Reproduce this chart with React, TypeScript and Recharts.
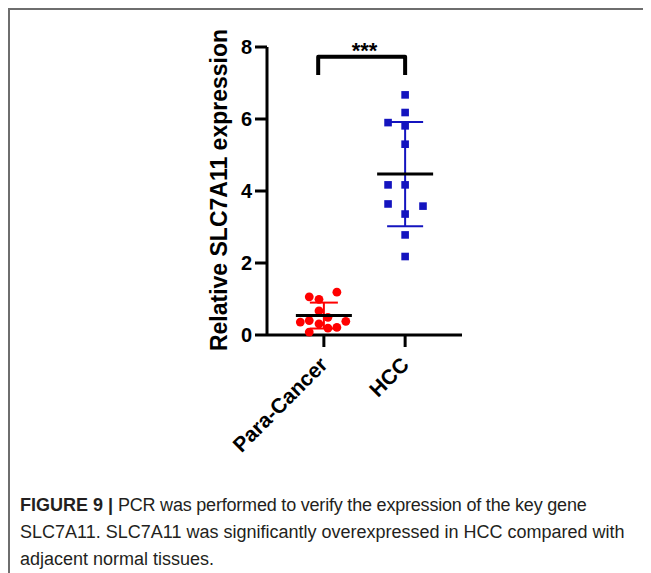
import React from "react";
import { ScatterChart, Scatter, XAxis, YAxis, ErrorBar } from "recharts";

// Categories and tick labels
const categories = ["Para-Cancer", "HCC"];
const categoryPositions = [1, 2];
const yTicks = [0, 2, 4, 6, 8];

// Individual measurements (x = category position with jitter, y = relative expression)
const paraCancerPoints = [
  { x: 0.82, y: 1.06 },
  { x: 0.94, y: 0.99 },
  { x: 1.16, y: 1.19 },
  { x: 0.94, y: 0.67 },
  { x: 1.05, y: 0.49 },
  { x: 0.71, y: 0.36 },
  { x: 0.82, y: 0.4 },
  { x: 0.94, y: 0.31 },
  { x: 1.27, y: 0.38 },
  { x: 0.82, y: 0.08 },
  { x: 1.05, y: 0.19 },
  { x: 1.16, y: 0.21 },
];

const hccPoints = [
  { x: 2.0, y: 6.67 },
  { x: 2.0, y: 6.18 },
  { x: 1.79, y: 5.9 },
  { x: 2.0, y: 5.81 },
  { x: 2.0, y: 5.3 },
  { x: 1.79, y: 4.17 },
  { x: 2.0, y: 4.17 },
  { x: 1.79, y: 3.64 },
  { x: 2.0, y: 3.36 },
  { x: 2.22, y: 3.58 },
  { x: 2.0, y: 2.78 },
  { x: 2.0, y: 2.18 },
];

// Mean +/- SD
const paraCancerSummary = [{ x: 1, y: 0.54, sd: 0.36 }];
const hccSummary = [{ x: 2, y: 4.47, sd: 1.45 }];

// Significance bracket
const bracketPoints = [
  { x: 0.93, y: 7.22 },
  { x: 0.93, y: 7.73 },
  { x: 2.0, y: 7.73 },
  { x: 2.0, y: 7.22 },
];
const significance = [{ x: 1.5, y: 7.73, label: "***" }];

const RED = "#ff0000";
const BLUE = "#1414bf";
const FONT = "'Liberation Sans', Arial, Helvetica, sans-serif";

const Circle = (props: any) => (
  <circle cx={props.cx} cy={props.cy} r={4.4} fill={RED} />
);
const Square = (props: any) => (
  <rect x={props.cx - 3.8} y={props.cy - 3.8} width={7.6} height={7.6} fill={BLUE} />
);
const MeanLine = (props: any) => (
  <line
    x1={props.cx - 28}
    x2={props.cx + 28}
    y1={props.cy}
    y2={props.cy}
    stroke="#000"
    strokeWidth={3}
  />
);
const Empty = () => <g />;
const Stars = (props: any) => (
  <text
    x={props.cx}
    y={props.cy + 1}
    textAnchor="middle"
    fontFamily={FONT}
    fontWeight="bold"
    fontSize={22}
    fill="#000"
  >
    {props.payload.label}
  </text>
);

const XTick = (props: any) => {
  const { x, y, payload } = props;
  const idx = categoryPositions.indexOf(payload.value);
  const label = idx >= 0 ? categories[idx] : "";
  return (
    <g transform={`translate(${x + 5},${y + 17})`}>
      <text
        x={0}
        y={0}
        textAnchor="end"
        transform="rotate(-45)"
        fontFamily={FONT}
        fontWeight="bold"
        fontSize={21}
        fill="#000"
      >
        {label}
      </text>
    </g>
  );
};

const YLabel = (props: any) => {
  const vb = props.viewBox || { x: 0, y: 0, width: 0, height: 0 };
  const cx = vb.x + 12;
  const cy = vb.y + vb.height / 2 - 1;
  return (
    <text
      x={cx}
      y={cy}
      transform={`rotate(-90, ${cx}, ${cy})`}
      textAnchor="middle"
      dominantBaseline="central"
      fontFamily={FONT}
      fontWeight="bold"
      fontSize={23}
      fill="#000"
    >
      Relative SLC7A11 expression
    </text>
  );
};

export default function App() {
  return (
    <div
      style={{
        position: "relative",
        width: 643,
        height: 565,
        background: "#fff",
        fontFamily: FONT,
      }}
    >
      <div
        style={{
          position: "absolute",
          left: 0,
          top: 0,
          right: 0,
          bottom: 0,
          borderTop: "2px solid #6e6e6e",
          borderLeft: "2px solid #6e6e6e",
        }}
      />
      <div style={{ position: "absolute", left: 0, top: 0 }}>
        <ScatterChart
          width={643}
          height={460}
          margin={{ top: 39, right: 189, left: 199, bottom: 33 }}
        >
          <XAxis
            type="number"
            dataKey="x"
            domain={[0.3, 2.7]}
            ticks={categoryPositions}
            allowDataOverflow
            height={100}
            tickSize={12}
            stroke="#000"
            axisLine={{ stroke: "#000", strokeWidth: 3 }}
            tickLine={{ stroke: "#000", strokeWidth: 3 }}
            tick={<XTick />}
            interval={0}
          />
          <YAxis
            type="number"
            dataKey="y"
            domain={[0, 8]}
            ticks={yTicks}
            width={60}
            tickSize={12}
            tickMargin={3}
            stroke="#000"
            axisLine={{ stroke: "#000", strokeWidth: 3 }}
            tickLine={{ stroke: "#000", strokeWidth: 3 }}
            tick={{ fill: "#000", fontSize: 20, fontWeight: "bold", fontFamily: FONT }}
            label={YLabel}
          />
          <Scatter data={paraCancerPoints} shape={Circle} isAnimationActive={false} />
          <Scatter data={hccPoints} shape={Square} isAnimationActive={false} />
          <Scatter data={paraCancerSummary} shape={MeanLine} isAnimationActive={false}>
            <ErrorBar dataKey="sd" direction="y" width={14} stroke={RED} strokeWidth={2} />
          </Scatter>
          <Scatter data={hccSummary} shape={MeanLine} isAnimationActive={false}>
            <ErrorBar dataKey="sd" direction="y" width={18} stroke={BLUE} strokeWidth={2} />
          </Scatter>
          <Scatter
            data={bracketPoints}
            shape={Empty}
            line={{ stroke: "#000", strokeWidth: 4, strokeLinejoin: "round", strokeLinecap: "butt", fill: "none" }}
            isAnimationActive={false}
          />
          <Scatter
            data={significance}
            shape={Stars}
            isAnimationActive={false}
          />
        </ScatterChart>
      </div>
      <div
        style={{
          position: "absolute",
          left: 12,
          top: 484,
          width: 630,
          fontSize: 18,
          lineHeight: "27px",
          color: "#231f20",
          fontFamily: FONT,
          whiteSpace: "nowrap",
        }}
      >
        <span style={{ fontWeight: "bold" }}>FIGURE 9 |</span>
        <span style={{ letterSpacing: "-0.2px" }}>
          {" "}PCR was performed to verify the expression of the key gene
        </span>
        <br />
        SLC7A11. SLC7A11 was significantly overexpressed in HCC compared with
        <br />
        adjacent normal tissues.
      </div>
    </div>
  );
}
